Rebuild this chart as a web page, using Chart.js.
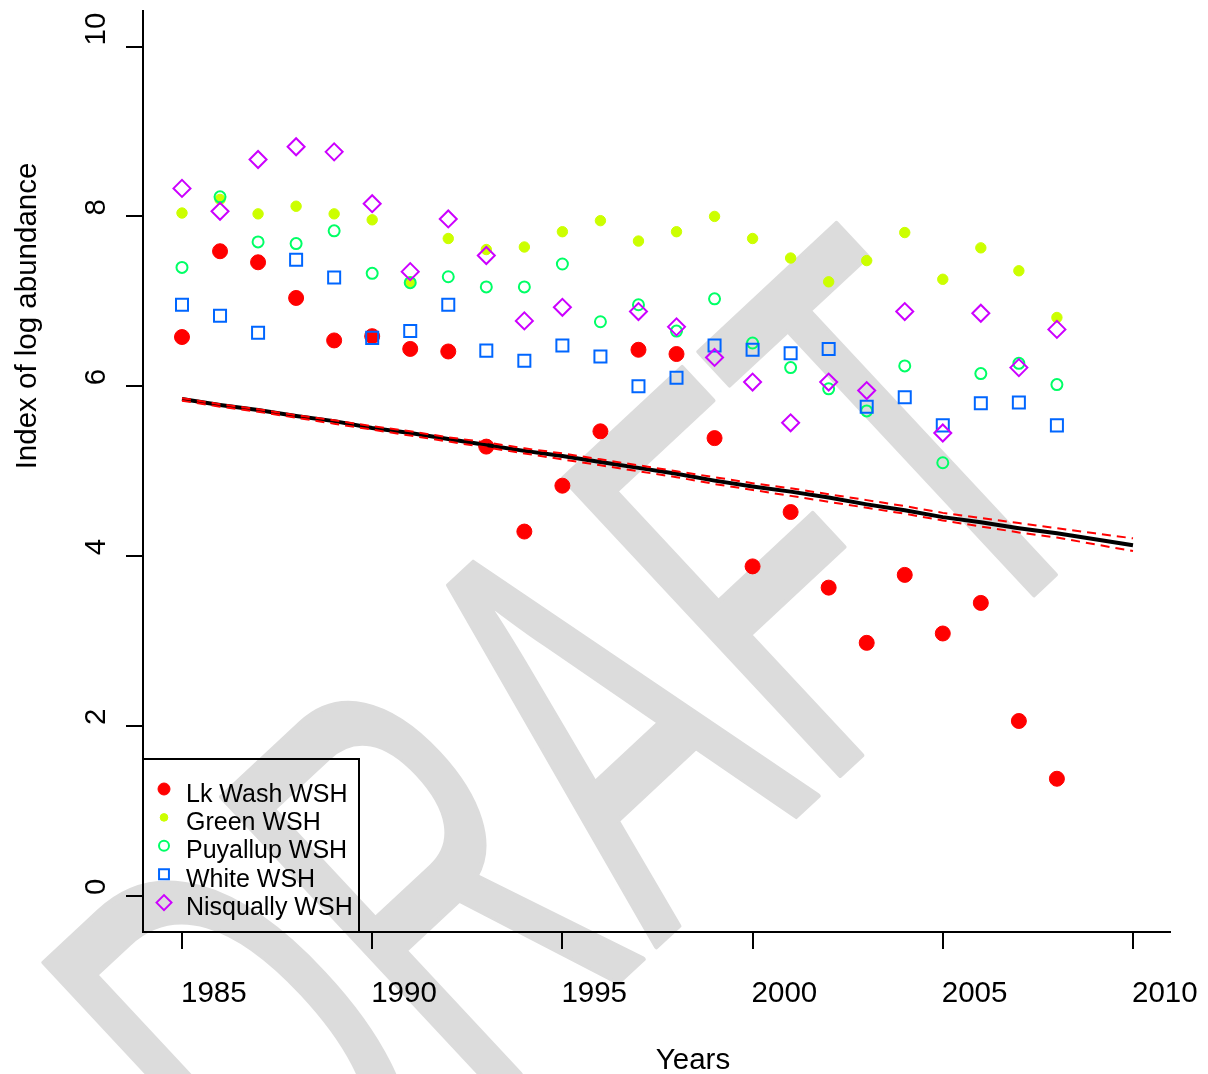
<!DOCTYPE html>
<html>
<head>
<meta charset="utf-8">
<script src="https://cdn.jsdelivr.net/npm/chart.js@4.4.0/dist/chart.umd.min.js"></script>
<style>
  html, body { margin: 0; padding: 0; background: #ffffff; }
  #wrap { width: 1208px; height: 1074px; }
</style>
</head>
<body>
<div id="wrap"><canvas id="c" width="1208" height="1074"></canvas></div>
<script>
// ---------------- data ----------------
const years = [1985,1986,1987,1988,1989,1990,1991,1992,1993,1994,1995,1996,1997,1998,1999,2000,2001,2002,2003,2004,2005,2006,2007,2008];
const lkWash    = [6.58,7.59,7.46,7.04,6.54,6.59,6.44,6.41,5.29,4.29,4.83,5.47,6.43,6.38,5.39,3.88,4.52,3.63,2.98,3.78,3.09,3.45,2.06,1.38];
const green     = [8.04,8.20,8.03,8.12,8.03,7.96,7.23,7.74,7.61,7.64,7.82,7.95,7.71,7.82,8.00,7.74,7.51,7.23,7.48,7.81,7.26,7.63,7.36,6.81];
const puyallup  = [7.40,8.23,7.70,7.68,7.83,7.33,7.22,7.29,7.17,7.17,7.44,6.76,6.96,6.65,7.03,6.51,6.22,5.97,5.71,6.24,5.10,6.15,6.27,6.02];
const white     = [6.96,6.83,6.63,7.49,7.28,6.57,6.65,6.96,6.42,6.30,6.48,6.35,6.00,6.10,6.48,6.43,6.39,6.44,5.76,5.87,5.54,5.80,5.81,5.54];
const nisqually = [8.33,8.06,8.67,8.82,8.76,8.15,7.35,7.97,7.54,6.77,6.93,null,6.88,6.70,6.34,6.05,5.57,6.05,5.95,6.88,5.45,6.86,6.22,6.67];

const trendYears = [1985,1986,1987,1988,1989,1990,1991,1992,1993,1994,1995,1996,1997,1998,1999,2000,2001,2002,2003,2004,2005,2006,2007,2008,2009,2010];
const trend      = [5.85,5.78,5.72,5.65,5.59,5.51,5.45,5.38,5.31,5.24,5.18,5.11,5.04,4.97,4.89,4.82,4.76,4.69,4.61,4.54,4.46,4.40,4.33,4.27,4.20,4.13];
const trendUpper = [5.86,5.79,5.73,5.66,5.60,5.53,5.47,5.40,5.34,5.27,5.21,5.14,5.07,5.00,4.93,4.86,4.80,4.73,4.66,4.59,4.51,4.45,4.39,4.33,4.27,4.21];
const trendLower = [5.83,5.76,5.70,5.63,5.56,5.49,5.42,5.35,5.28,5.21,5.14,5.07,5.00,4.93,4.85,4.78,4.71,4.64,4.57,4.50,4.42,4.35,4.28,4.22,4.14,4.06];

const seriesNames = ['Lk Wash WSH','Green WSH','Puyallup WSH','White WSH','Nisqually WSH'];
const xTicks = [1985,1990,1995,2000,2005,2010];
const yTicks = [0,2,4,6,8,10];
const xTitle = 'Years';
const yTitle = 'Index of log abundance';
const watermarkText = 'DRAFT';

// ---------------- styles ----------------
const FONT = '"Liberation Sans", Arial, Helvetica, sans-serif';
const colors = ['#FF0000','#CCFF00','#00FF66','#0066FF','#CC00FF'];
const styles = [
  {pointStyle:'circle',  radius:7.5, fill:true,  bw:1, lr:6,   lbw:1},
  {pointStyle:'circle',  radius:5.2, fill:true,  bw:1, lr:3.8, lbw:1},
  {pointStyle:'circle',  radius:5.5, fill:false, bw:2, lr:5,   lbw:2},
  {pointStyle:'rect',    radius:8.5, fill:false, bw:2, lr:7,   lbw:2},
  {pointStyle:'rectRot', radius:8.5, fill:false, bw:2, lr:7.5, lbw:2}
];
const seriesValues = [lkWash, green, puyallup, white, nisqually];

const toXY = (xs, ys) => xs.map((x, i) => ({x: x, y: ys[i]})).filter(p => p.y !== null);

const datasets = [];
seriesValues.forEach((vals, i) => {
  const st = styles[i];
  datasets.push({
    label: seriesNames[i],
    data: toXY(years, vals),
    showLine: false,
    pointStyle: st.pointStyle,
    pointRadius: st.radius,
    pointHoverRadius: st.radius,
    pointBorderWidth: st.bw,
    pointBorderColor: colors[i],
    pointBackgroundColor: st.fill ? colors[i] : 'rgba(0,0,0,0)',
    order: 10 - i
  });
});
datasets.push({
  label: 'trend',
  data: toXY(trendYears, trend),
  showLine: true, pointRadius: 0, borderColor: '#000000', borderWidth: 4, tension: 0,
  order: 2
});
datasets.push({
  label: 'upper',
  data: toXY(trendYears, trendUpper),
  showLine: true, pointRadius: 0, borderColor: '#FF0000', borderWidth: 2, borderDash: [9,6], tension: 0,
  order: 1
});
datasets.push({
  label: 'lower',
  data: toXY(trendYears, trendLower),
  showLine: true, pointRadius: 0, borderColor: '#FF0000', borderWidth: 2, borderDash: [9,6], tension: 0,
  order: 1
});

function drawSymbol(ctx, i, x, y) {
  const st = styles[i];
  ctx.save();
  ctx.lineWidth = st.lbw;
  ctx.strokeStyle = colors[i];
  ctx.fillStyle = st.fill ? colors[i] : 'rgba(0,0,0,0)';
  Chart.helpers.drawPoint(ctx, {pointStyle: st.pointStyle, radius: st.lr, rotation: 0, borderWidth: st.lbw}, x, y);
  ctx.restore();
}

const decor = {
  id: 'decor',
  beforeDraw(chart) {
    const ctx = chart.ctx;
    ctx.save();
    ctx.fillStyle = '#ffffff';
    ctx.fillRect(0, 0, chart.width, chart.height);
    // watermark
    ctx.translate(300, 1279);
    ctx.rotate(-43 * Math.PI / 180);
    ctx.scale(0.57, 1);
    ctx.font = '590px ' + FONT;
    ctx.fillStyle = '#dcdcdc';
    ctx.strokeStyle = '#dcdcdc';
    ctx.lineWidth = 5;
    ctx.lineJoin = 'round';
    ctx.textBaseline = 'alphabetic';
    ctx.textAlign = 'left';
    ctx.fillText(watermarkText, 0, 0);
    ctx.strokeText(watermarkText, 0, 0);
    ctx.restore();
  },
  afterDraw(chart) {
    const ctx = chart.ctx;
    const xs = chart.scales.x, ys = chart.scales.y;
    ctx.save();
    ctx.fillStyle = '#000000';
    ctx.font = '29.5px ' + FONT;
    ctx.textBaseline = 'alphabetic';
    // x tick labels
    ctx.textAlign = 'left';
    xTicks.forEach(v => {
      ctx.fillText(String(v), xs.getPixelForValue(v) - 1, 1002);
    });
    // y tick labels (rotated)
    yTicks.forEach(v => {
      ctx.save();
      ctx.translate(105, ys.getPixelForValue(v) - 1);
      ctx.rotate(-Math.PI / 2);
      ctx.textAlign = 'left';
      ctx.fillText(String(v), 0, 0);
      ctx.restore();
    });
    // axis titles
    ctx.textAlign = 'center';
    ctx.fillText(xTitle, 693, 1069);
    ctx.save();
    ctx.translate(36, 316);
    ctx.rotate(-Math.PI / 2);
    ctx.fillText(yTitle, 0, 0);
    ctx.restore();
    // legend
    ctx.strokeStyle = '#000000';
    ctx.lineWidth = 2;
    ctx.strokeRect(143, 759, 216, 173);
    ctx.font = '25px ' + FONT;
    ctx.textAlign = 'left';
    seriesNames.forEach((name, i) => {
      const base = 801.5 + 28.4 * i;
      drawSymbol(ctx, i, 164, base - 12.5);
      ctx.fillStyle = '#000000';
      ctx.fillText(name, 186, base);
    });
    ctx.restore();
  }
};

const axisCommon = {
  type: 'linear',
  grid: {display: true, drawOnChartArea: false, drawTicks: true, tickLength: 17, color: '#000000', lineWidth: 2},
  border: {display: true, color: '#000000', width: 2},
  ticks: {display: false}
};

new Chart(document.getElementById('c'), {
  type: 'scatter',
  data: {datasets: datasets},
  options: {
    responsive: false,
    animation: false,
    devicePixelRatio: 1,
    layout: {padding: {top: 10, right: 38, left: 0, bottom: 0}},
    plugins: {legend: {display: false}, tooltip: {enabled: false}},
    scales: {
      x: Object.assign({}, axisCommon, {
        position: 'bottom',
        min: 1983.975, max: 2010.973,
        afterBuildTicks: s => { s.ticks = xTicks.map(v => ({value: v})); },
        afterFit: s => { s.height = 142; }
      }),
      y: Object.assign({}, axisCommon, {
        position: 'left',
        min: -0.424, max: 10.424,
        afterBuildTicks: s => { s.ticks = yTicks.map(v => ({value: v})); },
        afterFit: s => { s.width = 143; }
      })
    }
  },
  plugins: [decor]
});
</script>
</body>
</html>
